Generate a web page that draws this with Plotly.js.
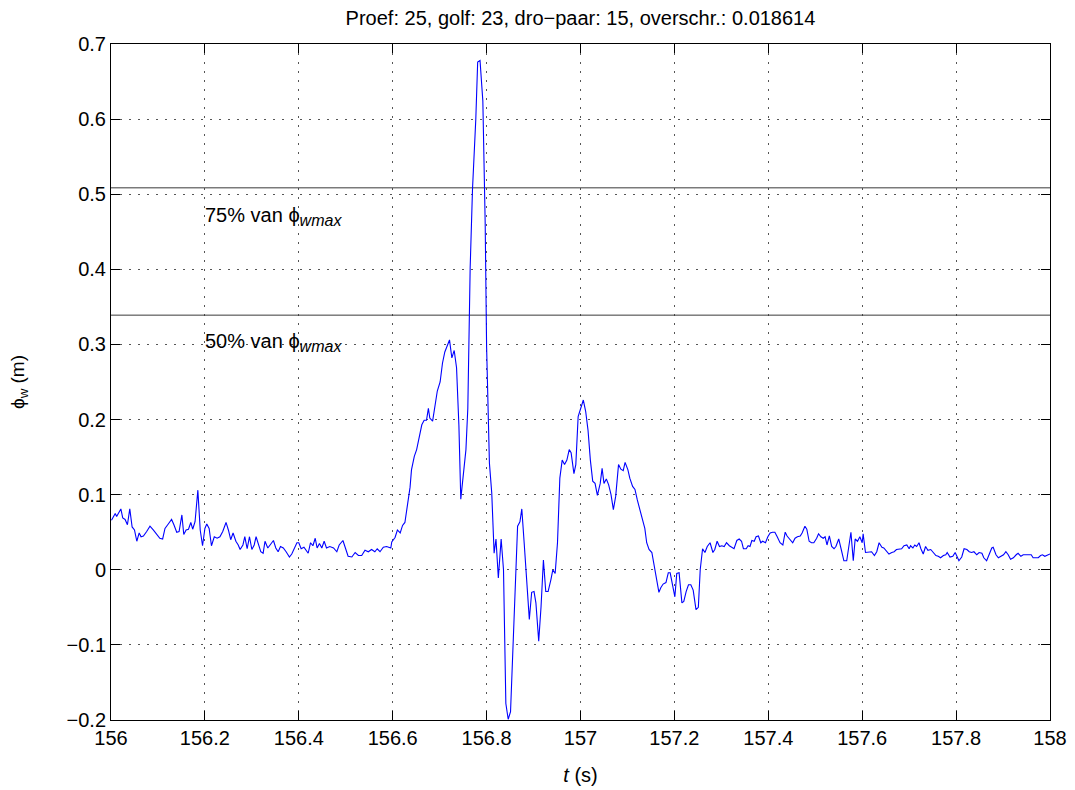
<!DOCTYPE html>
<html>
<head>
<meta charset="utf-8">
<script src="https://cdn.plot.ly/plotly-3.0.1.min.js"></script>
<style>html,body{margin:0;padding:0;background:#fff;}#chart{width:1075px;height:790px;}</style>
</head>
<body>
<div id="chart"></div>
<script>
// time (s)
const tValues = [
156.001,156.009,156.012,156.016,156.021,156.025,156.030,156.035,156.040,156.045,
156.050,156.055,156.060,156.064,156.069,156.076,156.083,156.090,156.097,156.104,
156.110,156.115,156.122,156.129,156.134,156.140,156.145,156.151,156.155,156.160,
156.165,156.170,156.174,156.179,156.185,156.190,156.195,156.200,156.204,156.209,
156.214,156.220,156.226,156.232,156.238,156.245,156.250,156.255,156.260,156.266,
156.271,156.275,156.281,156.285,156.290,156.295,156.300,156.305,156.309,156.314,
156.319,156.324,156.328,156.334,156.339,156.346,156.351,156.356,156.361,156.367,
156.373,156.380,156.385,156.390,156.396,156.400,156.405,156.411,156.415,156.420,
156.425,156.430,156.435,156.439,156.444,156.449,156.454,156.459,156.466,156.474,
156.481,156.486,156.494,156.498,156.505,156.513,156.520,156.527,156.534,156.541,
156.548,156.555,156.562,156.567,156.573,156.580,156.587,156.596,
156.598,156.605,156.610,156.616,156.621,156.626,156.631,156.637,156.640,156.646,
156.651,156.657,156.662,156.667,156.672,156.676,156.679,156.685,156.690,156.695,
156.701,156.706,156.711,156.716,156.721,156.726,156.731,156.736,156.741,156.745,
156.750,156.756,156.760,156.765,156.770,156.777,156.781,156.786,156.792,156.797,
156.800,
156.806,156.811,156.816,156.820,156.825,156.831,156.836,156.841,156.846,156.851,
156.857,156.862,156.866,156.871,156.875,156.880,156.885,156.891,156.896,156.901,
156.905,156.911,156.916,156.921,156.926,156.931,156.937,156.941,156.946,156.951,
156.956,156.961,156.966,156.971,156.976,156.980,156.986,156.990,156.995,157.000,
157.006,157.011,157.016,157.021,157.026,157.031,157.036,157.042,157.046,157.050,
157.055,157.060,157.065,157.070,157.075,157.081,157.086,157.091,157.095,157.101,
157.105,157.111,157.116,157.121,157.127,157.132,157.137,157.141,157.146,157.152,
157.155,157.161,157.167,157.171,157.176,157.182,157.187,157.191,157.196,157.201,
157.205,157.210,157.216,157.220,157.225,157.230,157.235,157.240,157.246,157.251,
157.255,
157.260,157.265,157.270,157.276,157.282,157.286,157.291,157.296,157.301,157.306,
157.311,157.317,157.322,157.327,157.333,157.338,157.343,157.347,157.353,157.357,
157.361,157.365,157.370,157.374,157.379,157.384,157.388,157.394,157.399,157.404,
157.409,157.414,157.419,157.425,157.431,157.436,157.440,157.446,157.452,157.457,
157.462,157.468,157.472,157.478,157.482,157.487,157.492,157.497,157.503,157.507,
157.512,157.517,157.521,157.525,157.530,157.535,157.540,157.544,157.550,157.555,
157.561,157.567,157.572,157.576,157.581,157.585,157.590,157.595,157.600,157.602,
157.607,157.613,157.620,157.626,157.631,157.636,157.642,157.646,157.652,157.657,
157.663,157.668,157.673,157.679,157.684,157.689,157.695,157.700,157.703,157.708,
157.712,157.716,157.721,157.725,157.730,157.735,157.740,157.746,157.751,157.757,
157.762,157.767,157.773,157.778,157.781,157.787,157.793,157.798,157.801,157.806,
157.812,157.817,157.823,157.828,157.833,157.838,157.844,157.849,157.855,157.859,
157.865,157.871,157.876,157.879,157.885,157.890,157.895,157.901,157.906,157.911,
157.916,157.922,157.928,157.932,157.938,157.943,157.949,157.954,157.960,157.964,
157.970,157.975,157.980,157.984,157.989,157.994,158.000
];
// phi_w (m)
const phiValues = [
0.066,0.075,0.071,0.076,0.081,0.069,0.067,0.060,0.081,0.057,
0.053,0.038,0.049,0.044,0.045,0.051,0.058,0.053,0.048,0.042,
0.041,0.055,0.061,0.067,0.060,0.050,0.051,0.073,0.047,0.053,
0.054,0.063,0.054,0.064,0.106,0.053,0.032,0.055,0.061,0.055,
0.032,0.044,0.042,0.044,0.051,0.063,0.053,0.040,0.049,0.038,
0.033,0.027,0.033,0.044,0.028,0.044,0.027,0.033,0.044,0.033,
0.024,0.022,0.038,0.029,0.033,0.039,0.029,0.024,0.031,0.029,
0.024,0.017,0.021,0.027,0.036,0.036,0.028,0.030,0.026,0.022,
0.036,0.032,0.042,0.029,0.035,0.029,0.038,0.029,0.031,0.029,
0.024,0.033,0.039,0.031,0.018,0.017,0.023,0.019,0.019,0.026,
0.024,0.027,0.024,0.028,0.024,0.030,0.031,0.029,
0.037,0.043,0.053,0.049,0.059,0.063,0.084,0.110,0.133,0.151,
0.160,0.177,0.193,0.199,0.199,0.215,0.202,0.198,0.221,0.238,
0.250,0.275,0.290,0.297,0.306,0.282,0.292,0.269,0.192,0.094,
0.122,0.160,0.215,0.402,0.507,0.600,0.676,0.678,0.624,0.461,
0.297,
0.142,0.102,0.022,0.041,-0.011,0.041,0.000,-0.178,-0.199,-0.189,
-0.093,-0.009,0.058,0.064,0.081,0.036,-0.009,-0.066,-0.030,-0.029,
-0.044,-0.095,-0.049,0.013,-0.029,-0.029,-0.013,0.000,-0.005,0.036,
0.122,0.146,0.140,0.146,0.160,0.156,0.128,0.140,0.204,0.215,
0.226,0.211,0.186,0.146,0.118,0.115,0.099,0.115,0.135,0.115,
0.121,0.113,0.100,0.080,0.098,0.140,0.134,0.132,0.143,0.133,
0.122,0.111,0.107,0.093,0.078,0.064,0.055,0.036,0.027,0.023,
0.013,-0.009,-0.030,-0.024,-0.019,-0.017,-0.004,-0.004,-0.022,-0.036,
-0.005,-0.004,-0.044,-0.042,-0.029,-0.020,-0.020,-0.027,-0.053,-0.050,
0.000,
0.028,0.023,0.031,0.036,0.023,0.027,0.038,0.031,0.032,0.031,
0.036,0.032,0.030,0.028,0.039,0.041,0.038,0.028,0.028,0.032,
0.031,0.039,0.038,0.044,0.045,0.036,0.038,0.036,0.044,0.049,
0.050,0.050,0.044,0.036,0.033,0.050,0.045,0.040,0.036,0.042,
0.044,0.045,0.049,0.058,0.054,0.038,0.036,0.036,0.042,0.048,
0.044,0.042,0.044,0.033,0.045,0.031,0.028,0.031,0.041,0.028,
0.012,0.012,0.036,0.050,0.012,0.041,0.038,0.044,0.036,0.048,
0.023,0.023,0.024,0.019,0.024,0.036,0.030,0.029,0.024,0.021,
0.023,0.024,0.027,0.028,0.028,0.032,0.033,0.028,0.032,0.029,
0.033,0.031,0.036,0.028,0.021,0.031,0.026,0.027,0.023,0.019,
0.018,0.016,0.019,0.020,0.023,0.017,0.018,0.023,0.019,0.012,
0.017,0.028,0.027,0.024,0.023,0.024,0.020,0.023,0.022,0.016,
0.012,0.020,0.029,0.030,0.020,0.016,0.018,0.020,0.024,0.020,
0.014,0.016,0.020,0.022,0.018,0.020,0.020,0.020,0.020,0.016,
0.016,0.016,0.019,0.020,0.018,0.019,0.021
];
const phiWmax = 0.678;
const refFractions = [0.75, 0.5];
const refLabels = [
  '75% van ϕ<sub><span style="font-size:16px"><i>wmax</i></span></sub>',
  '50% van ϕ<sub><span style="font-size:16px"><i>wmax</i></span></sub>'
];
const refLabelT = [156.2, 156.2];
const refLabelPhi = [0.471, 0.302];
const xRange = [156, 158];
const yRange = [-0.2, 0.7];
const titleText = 'Proef: 25, golf: 23, dro\u2212paar: 15, overschr.: 0.018614';

const FONT = '"Liberation Sans", Arial, Helvetica, sans-serif';

const traces = [];
refFractions.forEach(f => {
  traces.push({
    x: xRange, y: [f * phiWmax, f * phiWmax], mode: 'lines', type: 'scatter',
    line: {color: '#3a3a3a', width: 1}, hoverinfo: 'skip', showlegend: false
  });
});
traces.push({
  x: tValues, y: phiValues, mode: 'lines', type: 'scatter',
  line: {color: '#0000ff', width: 1.1}, showlegend: false
});

const annotations = refLabels.map((txt, i) => ({
  x: refLabelT[i], y: refLabelPhi[i], xref: 'x', yref: 'y',
  text: txt, showarrow: false, xanchor: 'left', yanchor: 'middle', xshift: -2,
  font: {family: FONT, size: 20, color: '#000'}
}));

const axisCommon = {
  showline: true, linecolor: '#000', linewidth: 1, mirror: 'ticks',
  ticks: 'inside', ticklen: 9, tickcolor: '#000', tickwidth: 1,
  showgrid: true, gridcolor: '#555', gridwidth: 1, griddash: '1.5px,7.5px',
  zeroline: false, tickfont: {family: FONT, size: 20, color: '#000'}
};

const layout = {
  width: 1075, height: 790,
  margin: {l: 111, r: 25, t: 44, b: 70},
  paper_bgcolor: '#fff', plot_bgcolor: '#fff',
  title: {text: titleText, font: {family: FONT, size: 20, color: '#000'},
          x: 0.5, xref: 'paper', y: 1 - 18/790, yref: 'container', yanchor: 'middle'},
  xaxis: Object.assign({}, axisCommon, {
    range: xRange, tick0: 156, dtick: 0.2,
    title: {text: '<i>t</i> (s)', font: {family: FONT, size: 20, color: '#000'}, standoff: 19}
  }),
  yaxis: Object.assign({}, axisCommon, {
    range: yRange, tick0: 0, dtick: 0.1,
    title: {text: 'ϕ<sub>w</sub> (m)', font: {family: FONT, size: 19, color: '#000'}, standoff: 36}
  }),
  annotations: annotations,
  showlegend: false
};

Plotly.newPlot('chart', traces, layout, {displayModeBar: false, staticPlot: true});
</script>
</body>
</html>
